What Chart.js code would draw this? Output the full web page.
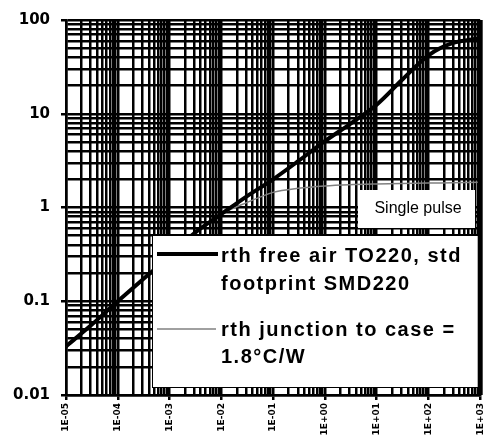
<!DOCTYPE html>
<html>
<head>
<meta charset="utf-8">
<script src="https://cdn.jsdelivr.net/npm/chart.js@4/dist/chart.umd.min.js"></script>
<style>
    html, body { margin: 0; padding: 0; background: #fff; }
    #wrap { width: 494px; height: 443px; position: relative; }
</style>
</head>
<body>
<div id="wrap"><canvas id="main-chart"></canvas></div>
<script>
// pulse duration (s) and thermal resistance (°C/W)
const pulseTimes = [1e-5, 3e-5, 1e-4, 3e-4, 1e-3, 3e-3, 1e-2, 3e-2, 1e-1, 3e-1, 1, 3, 10, 30, 100, 300, 1000];
const rthFreeAir = [0.033, 0.055, 0.1, 0.17, 0.30, 0.53, 0.85, 1.3, 2.0, 3.1, 5.1, 7.7, 12.5, 22.6, 42, 57, 64];
const rthJunctionCase = [0.033, 0.055, 0.1, 0.17, 0.30, 0.53, 0.85, 1.12, 1.45, 1.6, 1.7, 1.75, 1.78, 1.8, 1.82, 1.84, 1.86];

const seriesNames = ['rth free air TO220, std footprint SMD220', 'rth junction to case = 1.8°C/W'];
const legendLines = [['rth free air TO220, std', 'footprint SMD220'], ['rth junction to case =', '1.8°C/W']];
const noteText = 'Single pulse';

const xMajor = [1e-5, 1e-4, 1e-3, 1e-2, 1e-1, 1, 10, 100, 1000];
const xTickLabels = ['1E-05', '1E-04', '1E-03', '1E-02', '1E-01', '1E+00', '1E+01', '1E+02', '1E+03'];
const yMajor = [0.01, 0.1, 1, 10, 100];
const yTickLabels = ['0.01', '0.1', '1', '10', '100'];

function majorIndex(list, value) {
    return list.findIndex(m => Math.abs(Math.log10(value) - Math.log10(m)) < 1e-6);
}

// decades plus the 2..9 minor lines, like a log paper
function logPaperTicks(list) {
    const ticks = [];
    list.forEach((m, i) => {
        if (i === list.length - 1) {
            ticks.push({ value: m });
            return;
        }
        for (let k = 1; k <= 9; k++) ticks.push({ value: k * m });
    });
    return ticks;
}

const overlay = {
    id: 'overlay',
    afterDatasetsDraw(chart) {
        const ctx = chart.ctx;
        const area = chart.chartArea;
        ctx.save();

        // legend box
        ctx.fillStyle = '#fff';
        ctx.fillRect(152, 235, area.right - 152, 153);
        ctx.strokeStyle = '#000';
        ctx.lineWidth = 1;
        ctx.strokeRect(152.5, 235.5, area.right - 152, 152);

        const ds = chart.data.datasets;
        ctx.strokeStyle = ds[0].borderColor;
        ctx.lineWidth = ds[0].borderWidth;
        ctx.beginPath(); ctx.moveTo(157, 254); ctx.lineTo(218, 254); ctx.stroke();
        ctx.strokeStyle = ds[1].borderColor;
        ctx.lineWidth = ds[1].borderWidth;
        ctx.beginPath(); ctx.moveTo(157, 329); ctx.lineTo(216, 329); ctx.stroke();

        ctx.fillStyle = '#000';
        ctx.font = 'bold 20px "Liberation Sans", Arial, sans-serif';
        ctx.textAlign = 'left';
        ctx.textBaseline = 'alphabetic';
        if ('letterSpacing' in ctx) ctx.letterSpacing = '1.5px';
        ctx.fillText(legendLines[0][0], 221, 262);
        ctx.fillText(legendLines[0][1], 221, 290);
        ctx.fillText(legendLines[1][0], 221, 336);
        ctx.fillText(legendLines[1][1], 221, 363);
        if ('letterSpacing' in ctx) ctx.letterSpacing = '0px';

        // note box
        ctx.fillStyle = '#fff';
        ctx.fillRect(358, 190, 117, 38);
        ctx.fillStyle = '#000';
        ctx.font = '16px "Liberation Sans", Arial, sans-serif';
        ctx.textAlign = 'center';
        ctx.fillText(noteText, 418, 213);

        // heavy right frame
        ctx.strokeStyle = '#000';
        ctx.lineWidth = 5;
        ctx.beginPath(); ctx.moveTo(area.right, area.top); ctx.lineTo(area.right, area.bottom); ctx.stroke();
        ctx.restore();
    }
};

const chart = new Chart(document.getElementById('main-chart'), {
    type: 'line',
    data: {
        datasets: [
            {
                label: seriesNames[0],
                data: pulseTimes.map((t, i) => ({ x: t, y: rthFreeAir[i] })),
                borderColor: '#000',
                borderWidth: 4,
                pointRadius: 0,
                tension: 0.3,
                order: 0
            },
            {
                label: seriesNames[1],
                data: pulseTimes.map((t, i) => ({ x: t, y: rthJunctionCase[i] })),
                borderColor: '#808080',
                borderWidth: 1.5,
                pointRadius: 0,
                tension: 0.3,
                order: 1
            }
        ]
    },
    options: {
        responsive: true,
        maintainAspectRatio: false,
        animation: false,
        layout: { padding: { top: 15, right: 10, left: 0, bottom: 0 } },
        plugins: {
            legend: { display: false },
            tooltip: { enabled: false }
        },
        scales: {
            x: {
                type: 'logarithmic',
                min: 1e-5,
                max: 1000,
                afterBuildTicks: scale => { scale.ticks = logPaperTicks(xMajor); },
                afterFit: scale => { scale.height = 48; },
                border: { display: true, color: '#000', width: 2.5 },
                grid: {
                    color: '#000',
                    lineWidth: 2.5,
                    tickLength: 5,
                    tickColor: c => majorIndex(xMajor, c.tick.value) >= 0 ? '#000' : 'rgba(0,0,0,0)'
                },
                ticks: {
                    autoSkip: false,
                    minRotation: 90,
                    maxRotation: 90,
                    padding: 3,
                    color: '#000',
                    font: { family: '"DejaVu Sans", sans-serif', size: 9, weight: 'bold' },
                    callback: value => {
                        const i = majorIndex(xMajor, value);
                        return i >= 0 ? xTickLabels[i] : '';
                    }
                }
            },
            y: {
                type: 'logarithmic',
                min: 0.01,
                max: 100,
                afterBuildTicks: scale => { scale.ticks = logPaperTicks(yMajor); },
                afterFit: scale => { scale.width = 66; },
                border: { display: true, color: '#000', width: 2.5 },
                grid: {
                    color: '#000',
                    lineWidth: 2.5,
                    tickLength: 5,
                    tickColor: c => majorIndex(yMajor, c.tick.value) >= 0 ? '#000' : 'rgba(0,0,0,0)'
                },
                ticks: {
                    autoSkip: false,
                    padding: 11,
                    color: '#000',
                    font: { family: '"DejaVu Sans", sans-serif', size: 15, weight: 'bold' },
                    callback: value => {
                        const i = majorIndex(yMajor, value);
                        return i >= 0 ? yTickLabels[i] : '';
                    }
                }
            }
        }
    },
    plugins: [overlay]
});
</script>
</body>
</html>
